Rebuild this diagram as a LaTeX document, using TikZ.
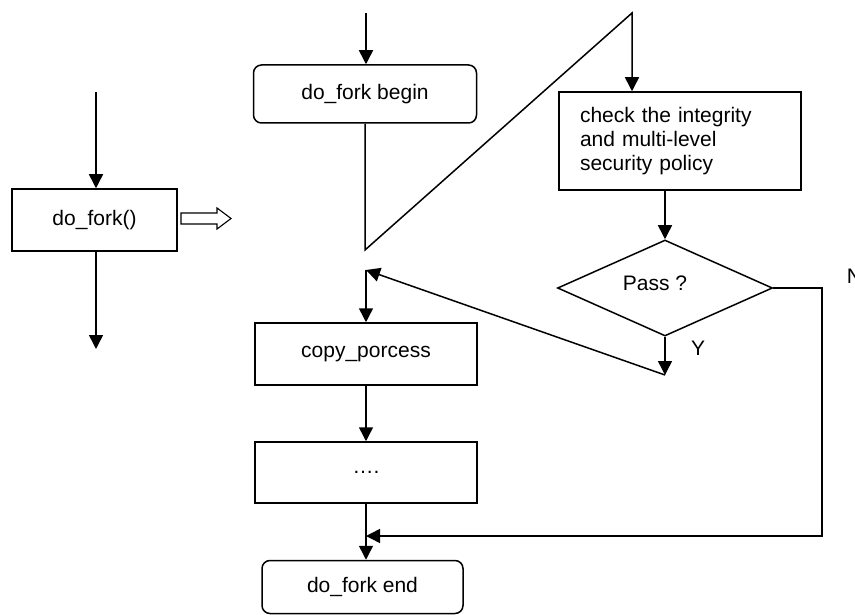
\documentclass[tikz,border=0pt]{standalone}
\usepackage{fontspec}
\setmainfont{Liberation Sans}
\usetikzlibrary{arrows.meta,shapes.geometric}
\begin{document}
\begin{tikzpicture}[x=1pt,y=-1pt, line width=1.5pt,
  font=\fontsize{21}{24}\selectfont,
  box/.style={draw, rectangle, inner sep=0pt},
  rbox/.style={draw, rectangle, rounded corners=8pt, inner sep=0pt},
  lbl/.style={inner sep=0pt},
  arr/.style={-{Triangle[length=14pt,width=14pt]}}]
\useasboundingbox (0,0) rectangle (855,615);
% nodes
\node[box, minimum width=165, minimum height=62] (dofork) at (94.5,220) {\raisebox{3pt}{do\_fork()}};
\node[rbox, minimum width=223, minimum height=58] (begin) at (365,94) {do\_fork begin};
\node[box, minimum width=242, minimum height=98, text width=200, align=left, inner xsep=21pt] (check) at (680,141) {check the integrity\\and multi-level\\security policy};
\node[draw, diamond, minimum width=215, minimum height=96, inner sep=0pt] (pass) at (665,288) {};
\node[lbl] (passlbl) at (655,283) {Pass ?};
\node[box, minimum width=222, minimum height=62] (copy) at (366,354) {copy\_porcess};
\node[box, minimum width=222, minimum height=61] (dots) at (366,472.5) {….};
\node[rbox, minimum width=201, minimum height=53] (end) at (362.5,587) {do\_fork end};
\node[lbl, anchor=center] (ylbl) at (698,348) {Y};
\node[lbl, anchor=west] (nlbl) at (846,276) {N};
% coordinates
\coordinate (l0) at (96,92);
\coordinate (l1) at (96,349);
\coordinate (t0) at (366,13);
\coordinate (v) at (365,250);
\coordinate (apex) at (632,13);
\coordinate (ya) at (665,375);
\coordinate (m) at (366,270);
\coordinate (nr) at (822,288);
\coordinate (nb) at (822,536);
% left column
\draw[arr] (l0) -- (l0 |- dofork.north);
\draw[arr] (l0 |- dofork.south) -- (l1);
\draw[line width=1.1pt, fill=white] (181,213) -- (217,213) -- (217,208) -- (231,218.5) -- (217,229) -- (217,224) -- (181,224) -- cycle;
% main flow
\draw[arr] (t0) -- (t0 |- begin.north);
\draw[arr] (begin.south) -- (v) -- (apex) -- (apex |- check.north);
\draw[arr] (pass.north |- check.south) -- (pass.north);
\draw[arr] (pass.south) -- (ya);
\draw[arr] (ya) -- (m);
\draw[arr] (m) -- (m |- copy.north);
\draw[arr] (copy.south) -- (dots.north);
\draw[arr] (dots.south) -- (dots.south |- end.north);
\draw[arr] (pass.east) -- (nr) -- (nb) -- (nb -| dots.south);
\end{tikzpicture}
\end{document}
